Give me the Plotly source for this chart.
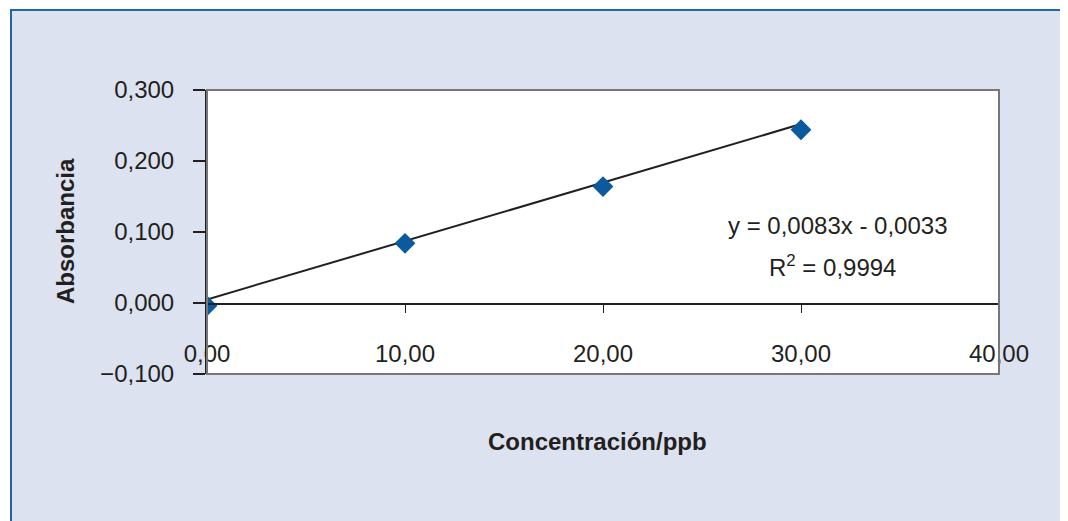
import plotly.graph_objects as go

concentracion = [0, 10, 20, 30]
absorbancia = [-0.004, 0.084, 0.164, 0.244]
trend_x = [0, 30]
trend_y = [0.005, 0.252]
x_ticks = [0, 10, 20, 30, 40]
y_ticks = [-0.1, 0.0, 0.1, 0.2, 0.3]
ecuacion = "y = 0,0083x - 0,0033"
r2_text = "R<sup>2</sup> = 0,9994"

# page body has an 8px margin; work in reference pixel coords, then offset
OFF = 8
W, H = 1068 - OFF, 521 - OFF
L, R, T, B = 207, 999, 90, 374


def px(x):
    return (x - L) / (R - L)


def py(y):
    return (B - y) / (B - T)


fig = go.Figure()
fig.add_trace(go.Scatter(x=trend_x, y=trend_y, mode="lines",
                         line=dict(color="#231f20", width=2), hoverinfo="skip"))
fig.add_trace(go.Scatter(x=concentracion, y=absorbancia, mode="markers",
                         marker=dict(symbol="diamond", size=16, color="#0b5a9e",
                                     line=dict(width=0))))

font = "Liberation Sans, Arial, sans-serif"
fig.update_layout(
    width=W, height=H,
    margin=dict(l=L - OFF, r=W - (R - OFF), t=T - OFF, b=H - (B - OFF), pad=0),
    paper_bgcolor="white",
    plot_bgcolor="white",
    showlegend=False,
    separators=",.",
    font=dict(family=font, size=24, color="#231f20"),
    xaxis=dict(range=[0, 40], tickvals=x_ticks, tickformat=".2f",
               showgrid=False, zeroline=False, showline=True, linecolor="#231f20",
               linewidth=2, ticks="outside", ticklen=8, tickwidth=1, tickcolor="#231f20",
               anchor="free", position=py(304), ticklabelstandoff=20,
               tickfont=dict(size=24, color="#231f20")),
    yaxis=dict(range=[-0.1, 0.3], tickvals=y_ticks, tickformat=".3f",
               showgrid=False, zeroline=False, showline=True, linecolor="#231f20",
               linewidth=2, ticks="outside", ticklen=12, tickwidth=2, tickcolor="#231f20",
               ticklabelstandoff=14, tickfont=dict(size=24, color="#231f20")),
    shapes=[
        dict(type="rect", xref="paper", yref="paper",
             x0=px(11), x1=px(1064), y0=py(540), y1=py(10),
             fillcolor="#dce2ef", line=dict(color="#2165a8", width=2), layer="below"),
        dict(type="rect", xref="paper", yref="paper", x0=0, x1=1, y0=0, y1=1,
             fillcolor="white", line=dict(width=0), layer="below"),
        dict(type="rect", xref="paper", yref="paper", x0=0, x1=1, y0=0, y1=1,
             line=dict(color="#777777", width=2), layer="above"),
    ],
    annotations=[
        dict(text="<b>Absorbancia</b>", xref="paper", yref="paper",
             x=px(65), y=py(231), textangle=-90, xanchor="center", yanchor="middle",
             showarrow=False, font=dict(size=24, color="#231f20")),
        dict(text="<b>Concentración/ppb</b>", xref="paper", yref="paper",
             x=px(597), y=py(441), xanchor="center", yanchor="middle",
             showarrow=False, font=dict(size=24, color="#231f20")),
        dict(text=ecuacion, xref="paper", yref="paper",
             x=px(838), y=py(225), xanchor="center", yanchor="middle",
             showarrow=False, font=dict(size=24, color="#231f20")),
        dict(text=r2_text, xref="paper", yref="paper",
             x=px(832), y=py(266), xanchor="center", yanchor="middle",
             showarrow=False, font=dict(size=24, color="#231f20")),
    ],
)

fig.write_html("out.html")
